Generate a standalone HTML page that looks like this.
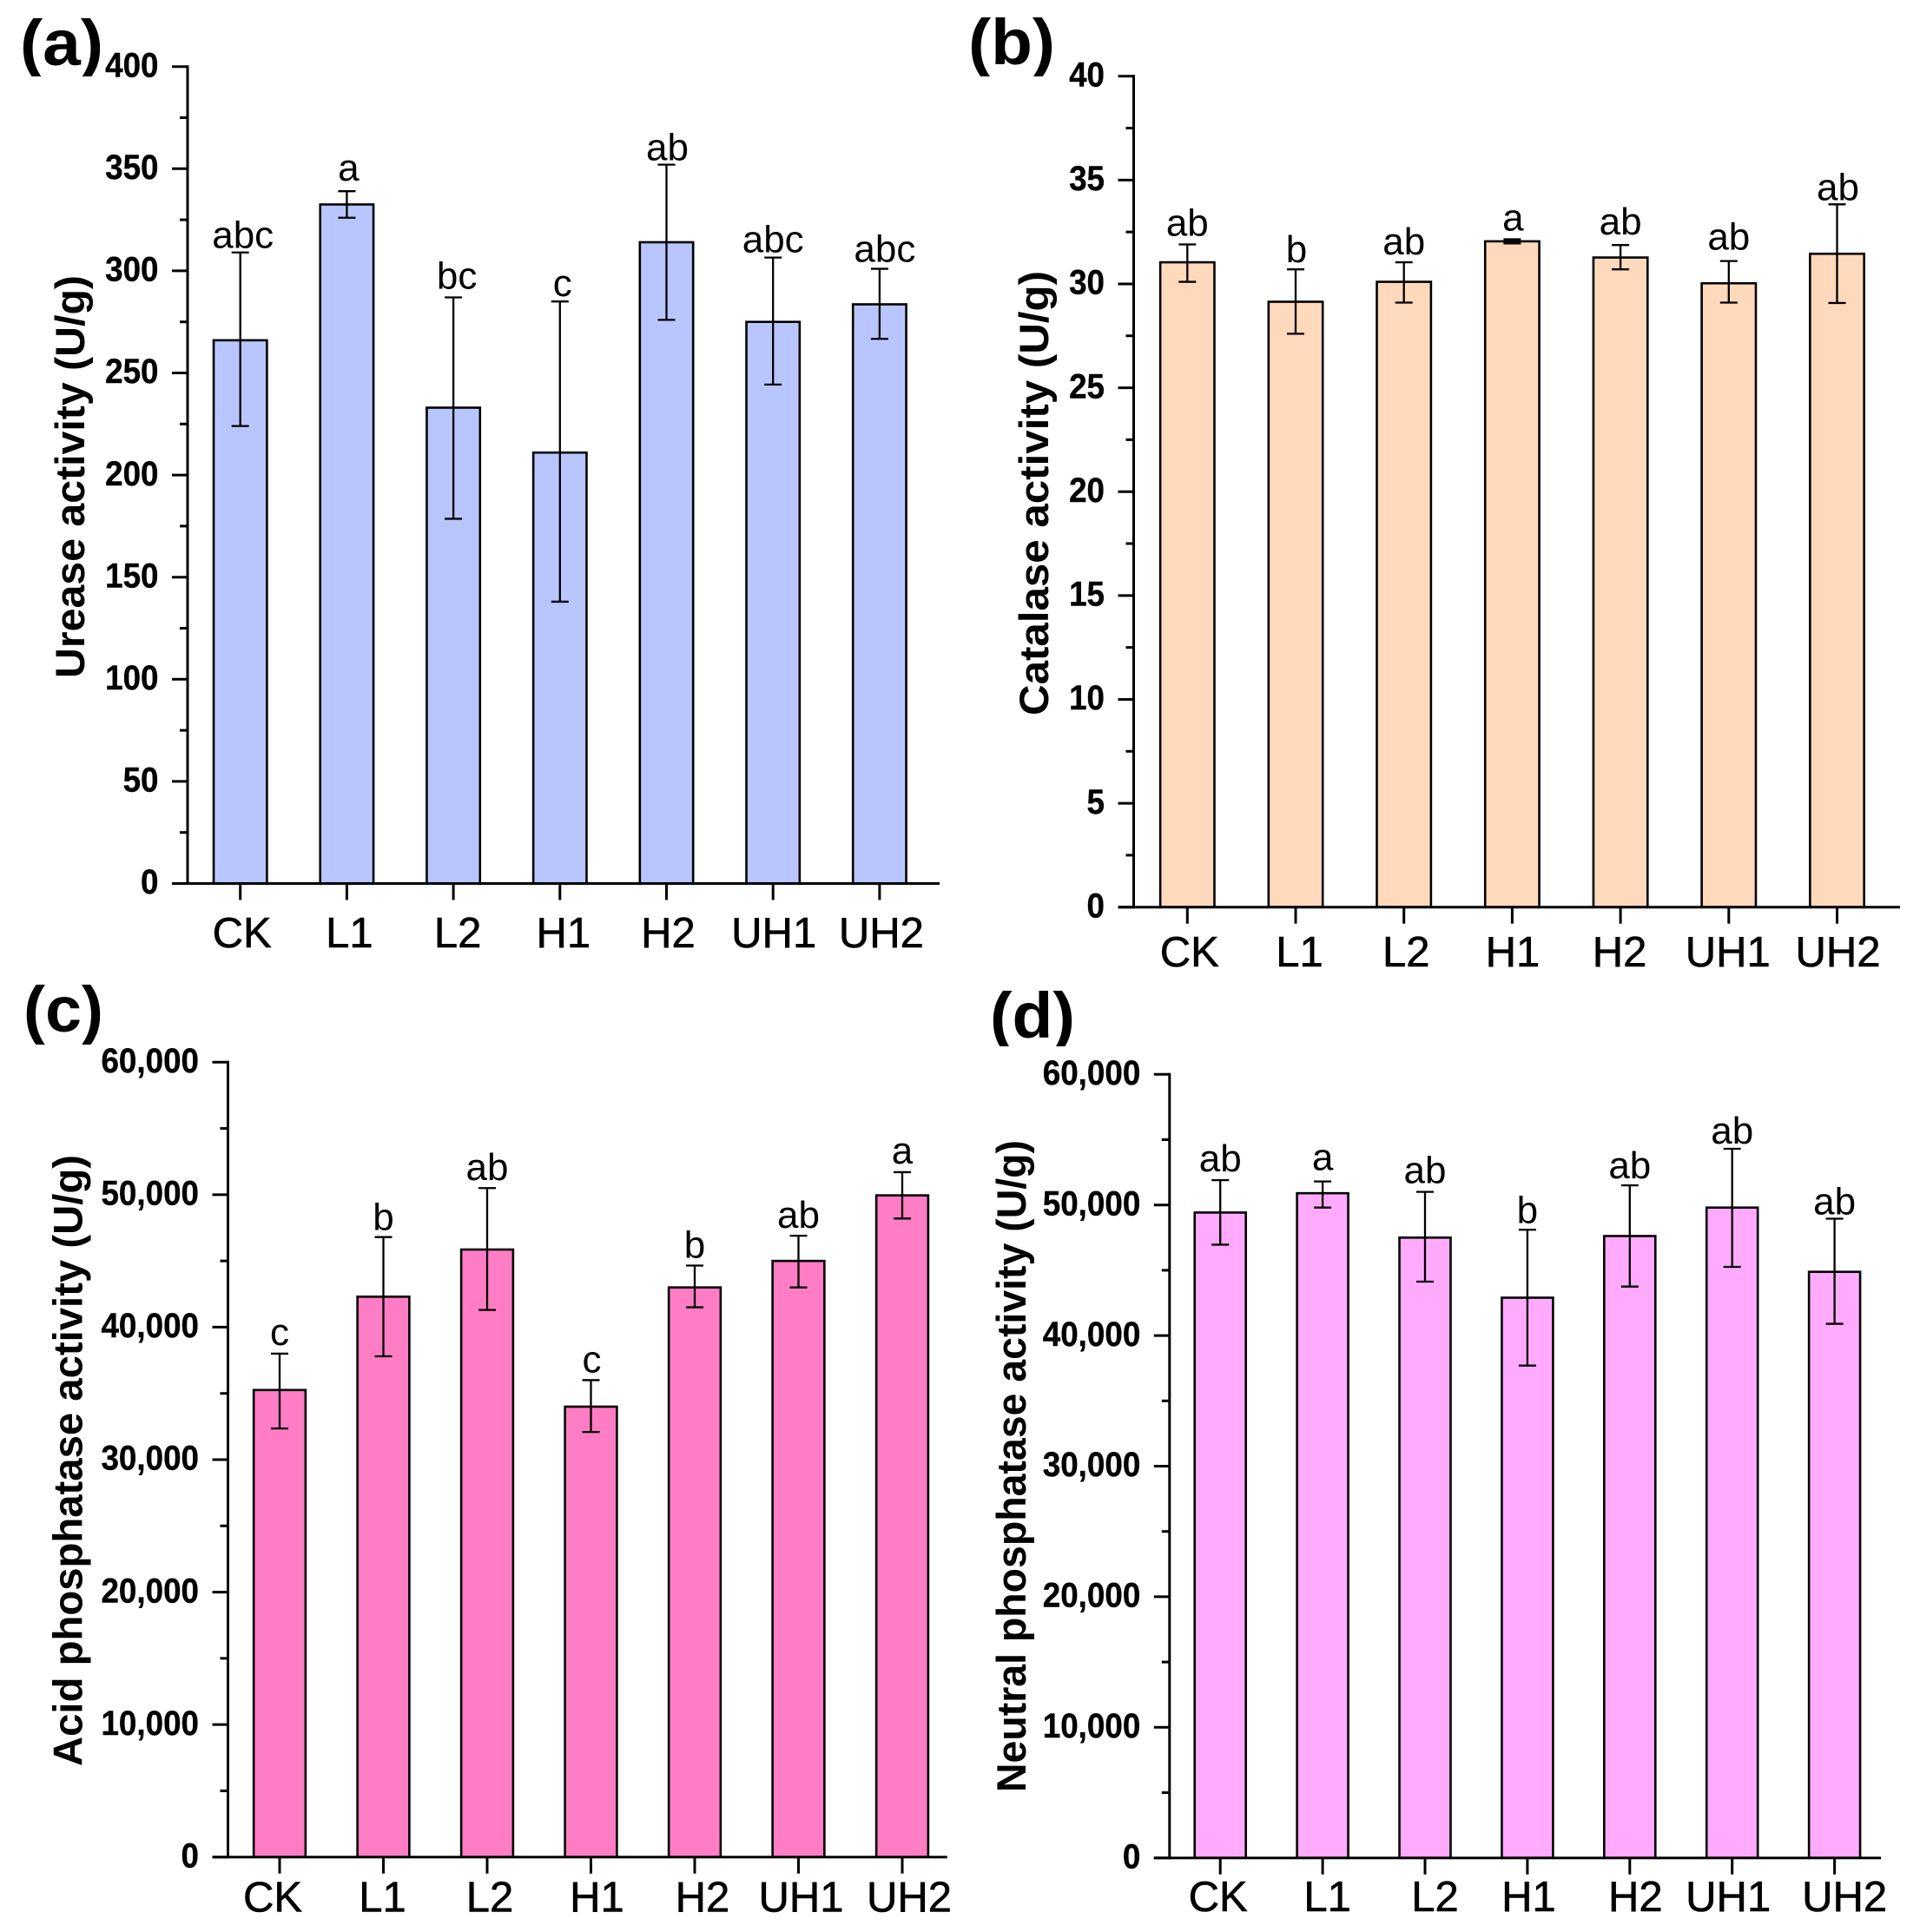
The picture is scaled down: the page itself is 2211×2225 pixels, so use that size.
<!DOCTYPE html>
<html lang="en">
<head>
<meta charset="utf-8">
<title>Soil enzyme activity bar charts</title>
<style>
html,body{margin:0;padding:0;background:#fff;}
svg{display:block;font-family:"Liberation Sans",Arial,sans-serif;}
</style>
</head>
<body>
<svg id="figure" xmlns="http://www.w3.org/2000/svg" width="2211" height="2225" viewBox="0 0 2211 2225">
<rect x="0" y="0" width="2211" height="2225" fill="#ffffff"/>
</svg>
<script>
const categories = ['CK','L1','L2','H1','H2','UH1','UH2'];

const ureaseTicks = [0,50,100,150,200,250,300,350,400];
const ureaseTickLabels = ['0','50','100','150','200','250','300','350','400'];
const ureaseValues = [266,332.5,233,211,314,275,283.6];
const ureaseHigh = [309,339,287,285,352,306.5,301];
const ureaseLow = [224,326,178.6,138,276,244.3,266.7];
const ureaseLetters = ['abc','a','bc','c','ab','abc','abc'];

const catalaseTicks = [0,5,10,15,20,25,30,35,40];
const catalaseTickLabels = ['0','5','10','15','20','25','30','35','40'];
const catalaseValues = [31.04,29.14,30.1,32.05,31.27,30.03,31.45];
const catalaseHigh = [31.9,30.7,31.04,32.15,31.87,31.1,33.83];
const catalaseLow = [30.1,27.6,29.1,31.95,30.7,29.1,29.08];
const catalaseLetters = ['ab','b','ab','a','ab','ab','ab'];

const acidTicks = [0,10000,20000,30000,40000,50000,60000];
const acidTickLabels = ['0','10,000','20,000','30,000','40,000','50,000','60,000'];
const acidValues = [35256,42300,45860,34000,43000,45000,49950];
const acidHigh = [38000,46800,50500,36000,44650,46900,51700];
const acidLow = [32350,37800,41300,32090,41500,43000,48200];
const acidLetters = ['c','b','ab','c','b','ab','a'];

const neutralTicks = [0,10000,20000,30000,40000,50000,60000];
const neutralTickLabels = ['0','10,000','20,000','30,000','40,000','50,000','60,000'];
const neutralValues = [49420,50900,47500,42900,47620,49800,44880];
const neutralHigh = [51900,51800,51000,48100,51500,54300,48950];
const neutralLow = [46960,49800,44130,37700,43750,45260,40900];
const neutralLetters = ['ab','a','ab','b','ab','ab','ab'];

const panels = [
  {key:'a', tag:'(a)', title:'Urease activity (U/g)', color:'#b9c6fe',
   ticks:ureaseTicks, tickLabels:ureaseTickLabels, values:ureaseValues, high:ureaseHigh, low:ureaseLow, letters:ureaseLetters,
   axisX:216, axisRight:1082, yTop:76.7, yZero:1017.5, firstX:276.7, step:122.7,
   labelBase:1091, labelNudge:[2,3,5,4,2,1,2], letterNudge:[3,2,4,3,1,0,6], letterGap:[5,12,10,6,5,6,8],
   titleX:97, titleTop:317, titleBottom:781,
   tagX:23, tagBase:75, tagLen:96, clipTop:19, clipBottom:88},
  {key:'b', tag:'(b)', title:'Catalase activity (U/g)', color:'#fed9bb',
   ticks:catalaseTicks, tickLabels:catalaseTickLabels, values:catalaseValues, high:catalaseHigh, low:catalaseLow, letters:catalaseLetters,
   axisX:1305.5, axisRight:2188, yTop:87.7, yZero:1044.7, firstX:1367.3, step:124.7,
   labelBase:1113, labelNudge:[2.5,4.5,2.5,0.5,-1,-1,1], letterNudge:[0,1,0,1,0,0,1], letterGap:[10,8,9,10,12,13,5],
   titleX:1207, titleTop:312, titleBottom:824,
   tagX:1115, tagBase:74, tagLen:100, clipTop:19, clipBottom:88},
  {key:'c', tag:'(c)', title:'Acid phosphatase activity (U/g)', color:'#ff7dc4',
   ticks:acidTicks, tickLabels:acidTickLabels, values:acidValues, high:acidHigh, low:acidLow, letters:acidLetters,
   axisX:262.5, axisRight:1090.7, yTop:1223.3, yZero:2138.7, firstX:322, step:119.5,
   labelBase:2201.5, labelNudge:[-8,-1,3,7,9,3,8], letterNudge:[0,0,0,1,0,0,0], letterGap:[10,8,9,9,9,9,10],
   titleX:94.6, titleTop:1330, titleBottom:2034,
   tagX:27, tagBase:1188, tagLen:92, clipTop:1133, clipBottom:1203},
  {key:'d', tag:'(d)', title:'Neutral phosphatase activity (U/g)', color:'#ffaafc',
   ticks:neutralTicks, tickLabels:neutralTickLabels, values:neutralValues, high:neutralHigh, low:neutralLow, letters:neutralLetters,
   axisX:1346.8, axisRight:2166, yTop:1237.3, yZero:2139.7, firstX:1405.2, step:117.9,
   labelBase:2201, labelNudge:[-2.5,5.5,11.5,1.5,6.5,-4.5,11.5], letterNudge:[0,0,0,0,0,0,0], letterGap:[10,13,10,8,8,6,5],
   titleX:1181, titleTop:1313, titleBottom:2064,
   tagX:1140, tagBase:1195, tagLen:98, clipTop:1139, clipBottom:1205}
];

const NS = 'http://www.w3.org/2000/svg';
const figure = document.getElementById('figure');

function make(parent, type, attrs, text) {
  const el = document.createElementNS(NS, type);
  for (const k in attrs) el.setAttribute(k, attrs[k]);
  if (text !== undefined) el.textContent = text;
  parent.appendChild(el);
  return el;
}

panels.forEach(function (p) {
  const yMax = p.ticks[p.ticks.length - 1];
  const yScale = function (v) { return p.yZero - (v / yMax) * (p.yZero - p.yTop); };
  const xScale = function (i) { return p.firstX + i * p.step; };
  const barWidth = p.step * 0.5;
  const capHalf = 10;

  const g = make(figure, 'g', {});
  
  

  // bars and error bars
  categories.forEach(function (cat, i) {
    const cx = xScale(i);
    const bar = make(g, 'rect', {
      x: cx - barWidth / 2, y: yScale(p.values[i]),
      width: barWidth, height: yScale(0) - yScale(p.values[i]),
      fill: p.color, stroke: '#000', 'stroke-width': 2.6
    });
    
    

    const err = make(g, 'path', {
      d: 'M' + (cx - capHalf) + ' ' + yScale(p.high[i]) + 'H' + (cx + capHalf) +
         'M' + cx + ' ' + yScale(p.high[i]) + 'V' + yScale(p.low[i]) +
         'M' + (cx - capHalf) + ' ' + yScale(p.low[i]) + 'H' + (cx + capHalf),
      fill: 'none', stroke: '#000', 'stroke-width': 2.3
    });
    
    

    const letter = make(g, 'text', {
      x: cx + p.letterNudge[i], y: yScale(p.high[i]) - p.letterGap[i],
      'font-size': 44, 'text-anchor': 'middle', fill: '#000'
    }, p.letters[i]);
    
    

    const tick = make(g, 'line', {
      x1: cx, x2: cx, y1: p.yZero, y2: p.yZero + 19,
      stroke: '#000', 'stroke-width': 3
    });
    
    

    const label = make(g, 'text', {
      x: cx + p.labelNudge[i], y: p.labelBase,
      'font-size': 49, 'text-anchor': 'middle', fill: '#000',
      stroke: '#000', 'stroke-width': 0.6
    }, cat);
    
    
  });

  // y ticks and labels
  p.ticks.forEach(function (t, i) {
    const y = yScale(t);
    const tick = make(g, 'line', {
      x1: p.axisX - 18, x2: p.axisX, y1: y, y2: y,
      stroke: '#000', 'stroke-width': 3
    });
    
    

    const label = make(g, 'text', {
      transform: 'translate(' + (p.axisX - 33.5) + ',' + (y + 11.7) + ') scale(0.92,1)',
      x: 0, y: 0,
      'font-size': 40, 'font-weight': 'bold', 'text-anchor': 'end', fill: '#000',
      stroke: '#000', 'stroke-width': 0.4
    }, p.tickLabels[i]);
    
    

    if (i < p.ticks.length - 1) {
      const my = yScale((t + p.ticks[i + 1]) / 2);
      const minor = make(g, 'line', {
        x1: p.axisX - 9, x2: p.axisX, y1: my, y2: my,
        stroke: '#000', 'stroke-width': 3
      });
      
      
    }
  });

  // axes
  const yAxis = make(g, 'line', {
    x1: p.axisX, x2: p.axisX, y1: p.yTop - 1.5, y2: p.yZero + 1.5,
    stroke: '#000', 'stroke-width': 3
  });
  
  

  const xAxis = make(g, 'line', {
    x1: p.axisX - 18, x2: p.axisRight, y1: p.yZero, y2: p.yZero,
    stroke: '#000', 'stroke-width': 3
  });
  
  

  // y-axis title
  const len = p.titleBottom - p.titleTop;
  const title = make(g, 'text', {
    transform: 'translate(' + p.titleX + ',' + p.titleBottom + ') rotate(-90)',
    x: 0, y: 0, 'font-size': 47, 'font-weight': 'bold', fill: '#000',
    textLength: len, lengthAdjust: 'spacingAndGlyphs'
  }, p.title);
  
  

  // panel tag, its parentheses are cropped flat in the source figure
  const clipId = 'tag-clip-' + p.key;
  const clip = make(g, 'clipPath', {id: clipId});
  make(clip, 'rect', {x: p.tagX - 20, y: p.clipTop, width: p.tagLen + 40, height: p.clipBottom - p.clipTop});
  const tagGroup = make(g, 'g', {'clip-path': 'url(#' + clipId + ')'});
  const tag = make(tagGroup, 'text', {
    x: p.tagX, y: p.tagBase, 'font-size': 74, 'font-weight': 'bold', fill: '#000',
    textLength: p.tagLen, lengthAdjust: 'spacingAndGlyphs'
  }, p.tag);
  
  
});
</script>
</body>
</html>
